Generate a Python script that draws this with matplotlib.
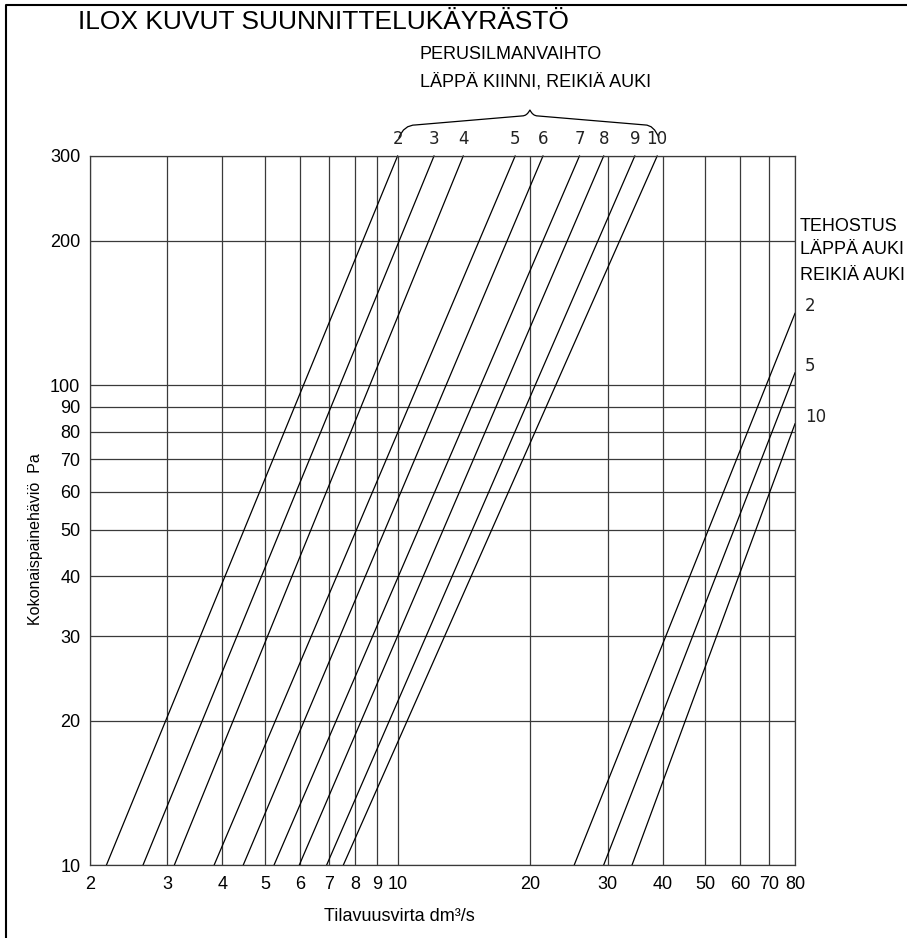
import matplotlib
matplotlib.use("Agg")
import matplotlib.pyplot as plt
from matplotlib.path import Path
from matplotlib.patches import PathPatch
from matplotlib.lines import Line2D
from matplotlib.ticker import NullLocator

plt.rcParams['font.family'] = ['Liberation Sans', 'DejaVu Sans']

# akselien jaotukset
flow_ticks = [2, 3, 4, 5, 6, 7, 8, 9, 10, 20, 30, 40, 50, 60, 70, 80]
pressure_ticks = [10, 20, 30, 40, 50, 60, 70, 80, 90, 100, 200, 300]

# perusilmanvaihto: tilavuusvirta 10 Pa ja 300 Pa kohdalla
basic_labels = ['2', '3', '4', '5', '6', '7', '8', '9', '10']
basic_q_10pa = [2.18, 2.64, 3.11, 3.83, 4.46, 5.24, 5.98, 6.90, 7.53]
basic_q_300pa = [10.0, 12.1, 14.1, 18.5, 21.4, 25.9, 29.4, 34.6, 38.9]

# tehostus: tilavuusvirta 10 Pa kohdalla ja paine 80 dm3/s kohdalla
boost_labels = ['2', '5', '10']
boost_q_10pa = [25.2, 29.4, 34.1]
boost_p_80 = [141, 106, 83]

fig = plt.figure(figsize=(9.07, 9.38), dpi=100)
ax = fig.add_axes([0.0992, 0.0778, 0.7773, 0.7559])
ax.set_xscale('log')
ax.set_yscale('log')
ax.set_xlim(2, 80)
ax.set_ylim(10, 300)

ax.set_xticks(flow_ticks)
ax.set_xticklabels([str(v) for v in flow_ticks], fontsize=13)
ax.set_yticks(pressure_ticks)
ax.set_yticklabels([str(v) for v in pressure_ticks], fontsize=13)
ax.xaxis.set_minor_locator(NullLocator())
ax.yaxis.set_minor_locator(NullLocator())
ax.tick_params(axis='x', length=0, pad=8)
ax.tick_params(axis='y', length=0, pad=7)
ax.grid(True, which='major', color='#3a3a3a', linewidth=0.9)
for sp in ax.spines.values():
    sp.set_color('#3a3a3a')
    sp.set_linewidth(0.9)

# käyrät
for lab, q1, q2 in zip(basic_labels, basic_q_10pa, basic_q_300pa):
    ax.plot([q1, q2], [10, 300], color='black', linewidth=0.9, clip_on=False)
    ax.annotate(lab, xy=(q2, 300), xytext=(0, 6), textcoords='offset points',
                ha='center', va='bottom', fontsize=12, family='DejaVu Sans',
                color='#222222', annotation_clip=False)

for lab, q1, p2 in zip(boost_labels, boost_q_10pa, boost_p_80):
    ax.plot([q1, 80], [10, p2], color='black', linewidth=0.9, clip_on=False)
    ax.annotate(lab, xy=(80, p2), xytext=(7, 5), textcoords='offset points',
                ha='left', va='center', fontsize=12, family='DejaVu Sans',
                color='#222222', annotation_clip=False)

# aaltosulje perusilmanvaihdon numeroiden yläpuolelle
yb, yh, yk, yp = 1.0254, 1.0438, 1.0565, 1.0650
verts = [(0.438, yb), (0.445, yh), (0.462, yh),
         (0.613, yk),
         (0.620, yk), (0.624, yp),
         (0.628, yk), (0.635, yk),
         (0.787, yh),
         (0.800, yh), (0.807, yb)]
codes = [Path.MOVETO, Path.CURVE3, Path.CURVE3, Path.LINETO,
         Path.CURVE3, Path.CURVE3, Path.CURVE3, Path.CURVE3,
         Path.LINETO, Path.CURVE3, Path.CURVE3]
ax.add_patch(PathPatch(Path(verts, codes), facecolor='none', edgecolor='black',
                       linewidth=0.9, transform=ax.transAxes, clip_on=False))

# tekstit
fig.text(0.086, 0.9765, 'ILOX KUVUT SUUNNITTELUKÄYRÄSTÖ', fontsize=19,
         ha='left', va='center')
fig.text(0.463, 0.9414, 'PERUSILMANVAIHTO', fontsize=13, ha='left', va='center')
fig.text(0.463, 0.9126, 'LÄPPÄ KIINNI, REIKIÄ AUKI', fontsize=13, ha='left', va='center')
fig.text(0.882, 0.758, 'TEHOSTUS', fontsize=13, ha='left', va='center')
fig.text(0.882, 0.7335, 'LÄPPÄ AUKI', fontsize=13, ha='left', va='center')
fig.text(0.882, 0.7068, 'REIKIÄ AUKI', fontsize=13, ha='left', va='center')
fig.text(0.0386, 0.425, 'Kokonaispainehäviö  Pa', fontsize=11.5, rotation=90,
         ha='center', va='center')
fig.text(0.44, 0.0224, 'Tilavuusvirta dm³/s', fontsize=13, ha='center', va='center')

# kehys vasemmalle ja ylös
fig.add_artist(Line2D([0.0066, 0.0066, 1.0], [0.0, 0.9947, 0.9947],
                      color='black', linewidth=1.5, transform=fig.transFigure))

fig.savefig('out.png', dpi=100)
